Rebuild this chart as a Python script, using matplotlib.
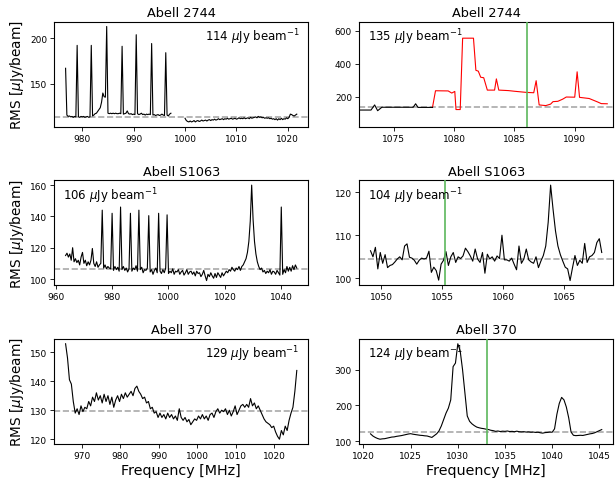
import numpy as np
import matplotlib.pyplot as plt

# ---- Abell 2744, full band (two spectral windows, 0.25 MHz channels)
a2744_f0 = (976.75, 997.25)
a2744_rms0 = [167, 116, 114.5, 115, 114, 114.5, 113.5, 114.5, 114, 192,
              114, 113.5, 114.5, 114, 114.5, 113.5, 114, 114.5, 113.5, 114,
              192, 115, 116, 117.5, 118, 120, 122, 124, 130, 140,
              136, 135.5, 212.6, 118, 117.5, 118, 117.5, 118, 117.5, 118,
              117.5, 117.5, 118, 117.5, 191, 117, 117.5, 118, 120.5, 117.5,
              117, 117.5, 116.5, 117, 116.5, 203.6, 117.5, 116.5, 117, 118,
              116.5, 117, 116, 117, 116.5, 117, 116.5, 194, 116, 116.5,
              115.5, 116, 116.5, 115.5, 116, 117, 116, 115.5, 184, 116,
              115, 117, 118]
a2744_f1 = (1000.0, 1021.75)
a2744_rms1 = [112.5, 110, 109, 108.5, 109.5, 108.5, 109, 110, 108.5, 109.5,
              110, 109, 109.5, 110.5, 109.5, 110, 110.5, 109.5, 110.5, 111,
              110, 111, 110.5, 111.5, 110.5, 111, 112, 111, 111.5, 112,
              111, 112, 111.5, 112.5, 111.5, 112, 112.5, 111.5, 112, 112.5,
              111.5, 112, 113, 112, 112.5, 112, 113, 112, 112.5, 113,
              112, 113.5, 112.5, 113, 113.5, 114, 113, 114.5, 113.5, 114,
              113, 113.5, 112.5, 113, 112.5, 113, 112, 112.5, 111.5, 112,
              111, 112, 110.5, 112, 111, 112.5, 111, 112, 111.5, 113,
              112, 113.5, 117, 116.5, 115.5, 115, 116, 117]
a2744_level = 113.7

# ---- Abell 2744, zoom on the HI window
a2744z_freq = [1072.1, 1073.1, 1073.4, 1073.65, 1074.0, 1076.6, 1076.8, 1077.0, 1078.2, 1078.45,
               1079.5, 1079.8, 1080.05, 1080.15, 1080.5, 1080.7, 1081.6, 1081.8, 1082.0, 1082.2,
               1082.45, 1082.75, 1083.35, 1083.5, 1083.7, 1084.5, 1085.0, 1086.0, 1086.6, 1086.8,
               1087.05, 1087.6, 1088.0, 1088.2, 1088.6, 1089.0, 1089.3, 1090.0, 1090.2, 1090.4,
               1091.2, 1091.9, 1092.2, 1092.7]
a2744z_rms = [119, 119, 150, 115, 136, 136, 157, 135, 135, 236,
              235, 222, 232, 122, 122, 555, 555, 360, 355, 318,
              315, 240, 240, 308, 240, 237, 233, 226, 224, 297,
              150, 146, 155, 170, 172, 185, 198, 197, 351, 196,
              189, 168, 158, 157]
a2744z_nblack = 9
a2744z_level = 135
a2744z_line = 1086.0

# ---- Abell S1063, full band (0.5 MHz channels)
s1063_f = (963.5, 1045.5)
s1063_rms = [115, 116.5, 114, 116, 112, 120, 111, 113, 110.5, 112,
             109, 114, 117, 110, 112, 108.5, 111, 109, 112, 119.5,
             110, 108, 111, 107.5, 109, 110, 144, 107, 109, 106.5,
             108, 107, 106.5, 142, 105.5, 108, 106, 107.5, 105, 146,
             106, 108, 105.5, 107, 104.5, 106.5, 142, 105, 107, 106,
             108.5, 105, 144, 106, 107.5, 104, 106, 105.5, 107, 140.5,
             104.5, 106, 103, 105.5, 107, 104, 142, 105, 103.5, 106,
             104, 107, 141, 103.5, 105, 104, 106.5, 103, 105, 104.5,
             106, 103, 104.5, 105.5, 102.5, 104, 106, 103, 104.5, 105,
             103, 104.5, 102, 105, 103.5, 104, 101.5, 103, 105.5, 102,
             99, 103, 101.5, 104, 102, 100.5, 103.5, 101, 104, 102.5,
             101, 104, 102, 103.5, 105, 104, 106, 105, 107.5, 106,
             105, 107, 106, 108, 105.5, 108, 109, 111, 113, 117,
             124, 137, 160, 138, 124, 116, 111, 108, 106, 107,
             104.5, 105.5, 103.5, 105, 104, 106, 103, 105, 104.5, 103,
             105.5, 104, 102.5, 146, 103, 106, 104, 108, 105, 107.5,
             105, 108.5, 106, 109, 107]
s1063_level = 106.6

# ---- Abell S1063, zoom
s1063z_f = (1049.1, 1068.1)
s1063z_rms = [106.4, 105.0, 107.2, 102.2, 106.0, 103.5, 105.5, 102.5, 103.0, 103.2,
              103.8, 104.5, 105.0, 104.3, 107.5, 108.0, 104.9, 104.7, 104.2, 103.3,
              104.2, 104.7, 104.5, 104.7, 106.3, 101.4, 102.6, 101.8, 99.6, 103.3,
              104.2, 106.2, 103.0, 105.0, 106.0, 103.7, 105.0, 104.6, 105.2, 107.0,
              106.2, 105.2, 104.0, 106.8, 104.5, 103.7, 106.0, 101.2, 105.6, 104.5,
              105.0, 104.0, 105.2, 104.6, 110.0, 104.3, 104.3, 104.0, 104.7, 103.3,
              102.0, 107.5, 103.5, 104.5, 106.8, 104.3, 103.8, 103.5, 105.0, 102.5,
              104.0, 105.3, 107.5, 113.0, 121.6, 116.0, 111.0, 107.5, 105.5, 104.0,
              102.6, 102.2, 99.5, 102.5, 105.3, 103.0, 104.2, 103.5, 108.1, 103.7,
              105.0, 105.3, 106.0, 108.3, 109.2, 106.0]
s1063z_level = 104.6
s1063z_line = 1055.25

# ---- Abell 370, full band (0.5 MHz channels)
a370_f = (965.8, 1025.8)
a370_rms = [152.9, 148.0, 140.5, 139.0, 133.0, 129.0, 130.5, 128.5, 131.5, 129.5,
            131.0, 130.5, 133.0, 131.5, 134.5, 133.0, 136.0, 133.5, 135.0, 132.5,
            135.5, 133.0, 135.0, 132.0, 134.5, 131.0, 133.5, 135.0, 133.0, 135.5,
            134.0, 136.0, 134.5, 135.5, 136.5, 135.0, 137.5, 138.3, 136.5, 135.5,
            134.0, 134.5, 132.5, 133.0, 130.5, 131.0, 129.0, 129.5, 127.5, 129.0,
            127.5, 128.5, 127.0, 129.0, 127.5, 128.5, 127.0, 128.0, 126.5, 130.5,
            127.5, 126.5, 127.5, 126.0, 126.8, 125.0, 126.0, 127.0, 126.5, 128.0,
            127.0, 128.5, 127.0, 128.0, 126.5, 128.5, 129.0, 127.5, 129.5, 130.5,
            129.0, 130.0, 129.5, 130.5, 128.5, 130.0, 128.0, 129.5, 131.5, 128.5,
            130.0, 131.5, 132.0, 131.0, 132.0, 131.0, 134.0, 131.5, 132.5, 130.5,
            131.5, 130.0, 128.5, 127.0, 126.0, 125.5, 125.0, 124.0, 124.5, 122.5,
            121.0, 120.0, 123.0, 121.5, 124.5, 123.0, 126.5, 129.0, 131.0, 136.5,
            143.7]
a370_level = 129.8

# ---- Abell 370, zoom (0.25 MHz channels)
a370z_f = (1020.75, 1045.25)
a370z_rms = [120, 114, 110, 107, 105, 106, 106.5, 108, 109.5, 111,
             111.5, 113, 114, 115, 116.5, 118, 119.5, 120.5, 119, 118,
             117, 116, 115.5, 114.5, 114, 112, 110, 115, 120, 128,
             142, 160, 178, 192, 215, 308, 318, 372, 352, 300,
             235, 170, 155, 148, 143, 139, 137, 135.5, 134.5, 133,
             132, 130, 129, 127, 128, 126.5, 127.5, 127, 128, 126.5,
             127, 126, 127.5, 126, 125.5, 126, 125, 125.5, 124.5, 125,
             124, 124.5, 123, 122, 123.5, 124, 125, 124.5, 134, 175,
             205, 222, 215, 195, 165, 125, 116, 115, 115.5, 116,
             115.5, 117, 118.5, 120, 121, 123, 126, 129, 132]
a370z_level = 124
a370z_line = 1033.1

# tick values
xt = [[980, 990, 1000, 1010, 1020], [1075, 1080, 1085, 1090],
      [960, 980, 1000, 1020, 1040], [1050, 1055, 1060, 1065],
      [970, 980, 990, 1000, 1010, 1020], [1020, 1025, 1030, 1035, 1040, 1045]]
yt = [[150, 200], [200, 400, 600], [100, 120, 140, 160], [100, 110, 120],
      [120, 130, 140, 150], [100, 200, 300]]

LW = 0.8
DASH = dict(color='darkgray', ls='--', lw=1.2, zorder=1)
GREEN = '#5cb85c'


def chan(frange, vals):
    return np.linspace(frange[0], frange[1], len(vals))


def label(ax, text, right=False):
    if right:
        ax.text(0.965, 0.86, text, transform=ax.transAxes, ha='right', va='center', fontsize=8.5)
    else:
        ax.text(0.035, 0.86, text, transform=ax.transAxes, ha='left', va='center', fontsize=8.5)


fig, axes = plt.subplots(3, 2, figsize=(6.16, 4.85), dpi=100)
fig.subplots_adjust(left=0.0877, right=0.9956, top=0.9532, bottom=0.0825, wspace=0.199, hspace=0.511)

# Abell 2744
ax = axes[0, 0]
ax.plot(chan(a2744_f0, a2744_rms0), a2744_rms0, color='k', lw=LW, zorder=2)
ax.plot(chan(a2744_f1, a2744_rms1), a2744_rms1, color='k', lw=LW, zorder=2)
ax.axhline(a2744_level, **DASH)
ax.set_title('Abell 2744')
label(ax, '114 $\\mu$Jy beam$^{-1}$', right=True)

ax = axes[0, 1]
ax.plot(a2744z_freq[a2744z_nblack - 1:], a2744z_rms[a2744z_nblack - 1:], color='red', lw=LW, zorder=2)
ax.plot(a2744z_freq[:a2744z_nblack], a2744z_rms[:a2744z_nblack], color='k', lw=LW, zorder=2)
ax.axhline(a2744z_level, **DASH)
ax.axvline(a2744z_line, color=GREEN, lw=1.2, zorder=3)
ax.set_xlim(1072.1, 1093.2)
ax.set_ylim(18, 655)
ax.set_title('Abell 2744')
label(ax, '135 $\\mu$Jy beam$^{-1}$')

# Abell S1063
ax = axes[1, 0]
ax.plot(chan(s1063_f, s1063_rms), s1063_rms, color='k', lw=LW, zorder=2)
ax.axhline(s1063_level, **DASH)
ax.set_title('Abell S1063')
label(ax, '106 $\\mu$Jy beam$^{-1}$')

ax = axes[1, 1]
ax.plot(chan(s1063z_f, s1063z_rms), s1063z_rms, color='k', lw=LW, zorder=2)
ax.axhline(s1063z_level, **DASH)
ax.axvline(s1063z_line, color=GREEN, lw=1.2, zorder=3)
ax.set_title('Abell S1063')
label(ax, '104 $\\mu$Jy beam$^{-1}$')

# Abell 370
ax = axes[2, 0]
ax.plot(chan(a370_f, a370_rms), a370_rms, color='k', lw=LW, zorder=2)
ax.axhline(a370_level, **DASH)
ax.set_title('Abell 370')
label(ax, '129 $\\mu$Jy beam$^{-1}$', right=True)

ax = axes[2, 1]
ax.plot(chan(a370z_f, a370z_rms), a370z_rms, color='k', lw=LW, zorder=2)
ax.axhline(a370z_level, **DASH)
ax.axvline(a370z_line, color=GREEN, lw=1.2, zorder=3)
ax.set_title('Abell 370')
label(ax, '124 $\\mu$Jy beam$^{-1}$')

for i, ax in enumerate(axes.flat):
    ax.set_xticks(xt[i])
    ax.set_yticks(yt[i])
    ax.tick_params(labelsize=6.5, length=3, width=0.6, pad=2)
    ax.title.set_fontsize(9.3)
    ax.title.set_position((0.5, 1.0))
    ax.set_title(ax.get_title(), fontsize=9.3, pad=4)

for ax in axes[:, 0]:
    ax.set_ylabel('RMS [$\\mu$Jy/beam]', fontsize=9.8, labelpad=3)
for ax in axes[2, :]:
    ax.set_xlabel('Frequency [MHz]', fontsize=10.3, labelpad=2)

plt.savefig('out.png', dpi=100)
